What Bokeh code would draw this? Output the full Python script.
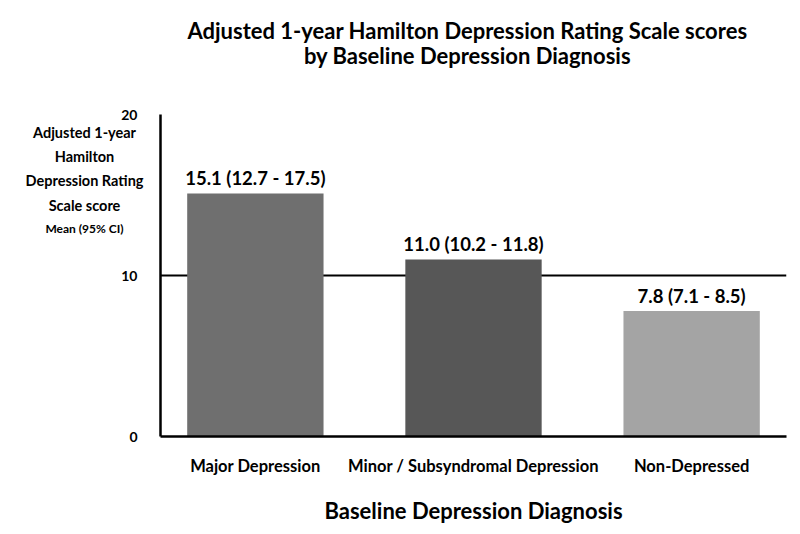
from bokeh.plotting import figure
from bokeh.models import ColumnDataSource, FactorRange, LabelSet, Label
from bokeh.core.properties import value
from bokeh.embed import file_html
from bokeh.resources import INLINE

# ---- data ----
categories = ["Major Depression", "Minor / Subsyndromal Depression", "Non-Depressed"]
means = [15.1, 11.0, 7.8]
ci_low = [12.7, 10.2, 7.1]
ci_high = [17.5, 11.8, 8.5]
bar_colors = ["#6f6f6f", "#575757", "#a4a4a4"]
y_ticks = [0, 10, 20]
title_lines = ["Adjusted 1-year Hamilton Depression Rating Scale scores",
               "by Baseline Depression Diagnosis"]
ylabel_lines = ["Adjusted 1-year", "Hamilton", "Depression Rating", "Scale score"]
ylabel_sub = "Mean (95% CI)"
xlabel = "Baseline Depression Diagnosis"

FONT = "Lato"
labels = [f"{m:.1f} ({lo:.1f} - {hi:.1f})" for m, lo, hi in zip(means, ci_low, ci_high)]
source = ColumnDataSource(dict(cat=categories, mean=means, color=bar_colors, label=labels))

pad = -0.0434
x_start = -pad * len(categories) / 2
x_mid = len(categories) / 2

p = figure(x_range=FactorRange(*categories, range_padding=pad, range_padding_units="percent"),
           y_range=(0, 20), frame_width=626, frame_height=322,
           output_backend="svg", toolbar_location=None,
           min_border_left=160, min_border_right=4, min_border_top=114, min_border_bottom=80)
p.outline_line_color = None
p.background_fill_color = "white"
p.border_fill_color = "white"

p.vbar(x="cat", top="mean", width=0.625, color="color", source=source, line_color=None)

# axes
p.xaxis.axis_line_width = 2.5
p.xaxis.axis_line_color = "black"
p.xaxis.major_tick_line_color = None
p.xaxis.minor_tick_line_color = None
p.xaxis.major_label_text_font = FONT
p.xaxis.major_label_text_font_size = "16.5px"
p.xaxis.major_label_text_font_style = "bold"
p.xaxis.major_label_text_color = "black"
p.xaxis.major_label_standoff = 13
p.xaxis.axis_label = xlabel
p.xaxis.axis_label_text_font = FONT
p.xaxis.axis_label_text_font_size = "22px"
p.xaxis.axis_label_text_font_style = "bold"
p.xaxis.axis_label_text_color = "black"
p.xaxis.axis_label_standoff = 18

p.yaxis.ticker = y_ticks
p.yaxis.axis_line_width = 2.5
p.yaxis.axis_line_color = "black"
p.yaxis.major_tick_line_color = None
p.yaxis.minor_tick_line_color = None
p.yaxis.major_label_text_font = FONT
p.yaxis.major_label_text_font_size = "14px"
p.yaxis.major_label_text_font_style = "bold"
p.yaxis.major_label_text_color = "black"
p.yaxis.major_label_standoff = 17

p.xgrid.grid_line_color = None
p.ygrid.ticker = [10, 20]
p.ygrid.grid_line_color = "black"
p.ygrid.grid_line_width = 2
p.ygrid.grid_line_alpha = 1

# bar value labels
p.add_layout(LabelSet(x="cat", y="mean", text="label", source=source,
                      text_align="center", text_baseline="bottom", y_offset=4,
                      text_font=value(FONT), text_font_size="18.5px",
                      text_font_style="bold", text_color="black"))

# title lines (top panel, positioned in data units + pixel offsets)
for txt, off in zip(title_lines, [84, 59]):
    p.add_layout(Label(x=x_mid, y=20, x_offset=-6, y_offset=off, text=txt,
                       text_align="center", text_baseline="middle",
                       text_font=FONT, text_font_size="22px",
                       text_font_style="bold", text_color="black"), "above")

# y axis label (horizontal, multi-line) in left panel
p.add_layout(Label(x=x_start, y=20, x_offset=-76, y_offset=-9, text="\n".join(ylabel_lines),
                   text_align="center", text_baseline="top", text_line_height=1.44,
                   text_font=FONT, text_font_size="14.5px",
                   text_font_style="bold", text_color="black"), "left")
# smaller sub-label placed in the top panel (position in data units)
p.add_layout(Label(x=x_start, y=20, x_offset=-76, y_offset=-114, text=ylabel_sub,
                   text_align="center", text_baseline="middle",
                   text_font=FONT, text_font_size="12px",
                   text_font_style="bold", text_color="black"), "above")

open("out.html", "w").write(file_html(p, INLINE))
